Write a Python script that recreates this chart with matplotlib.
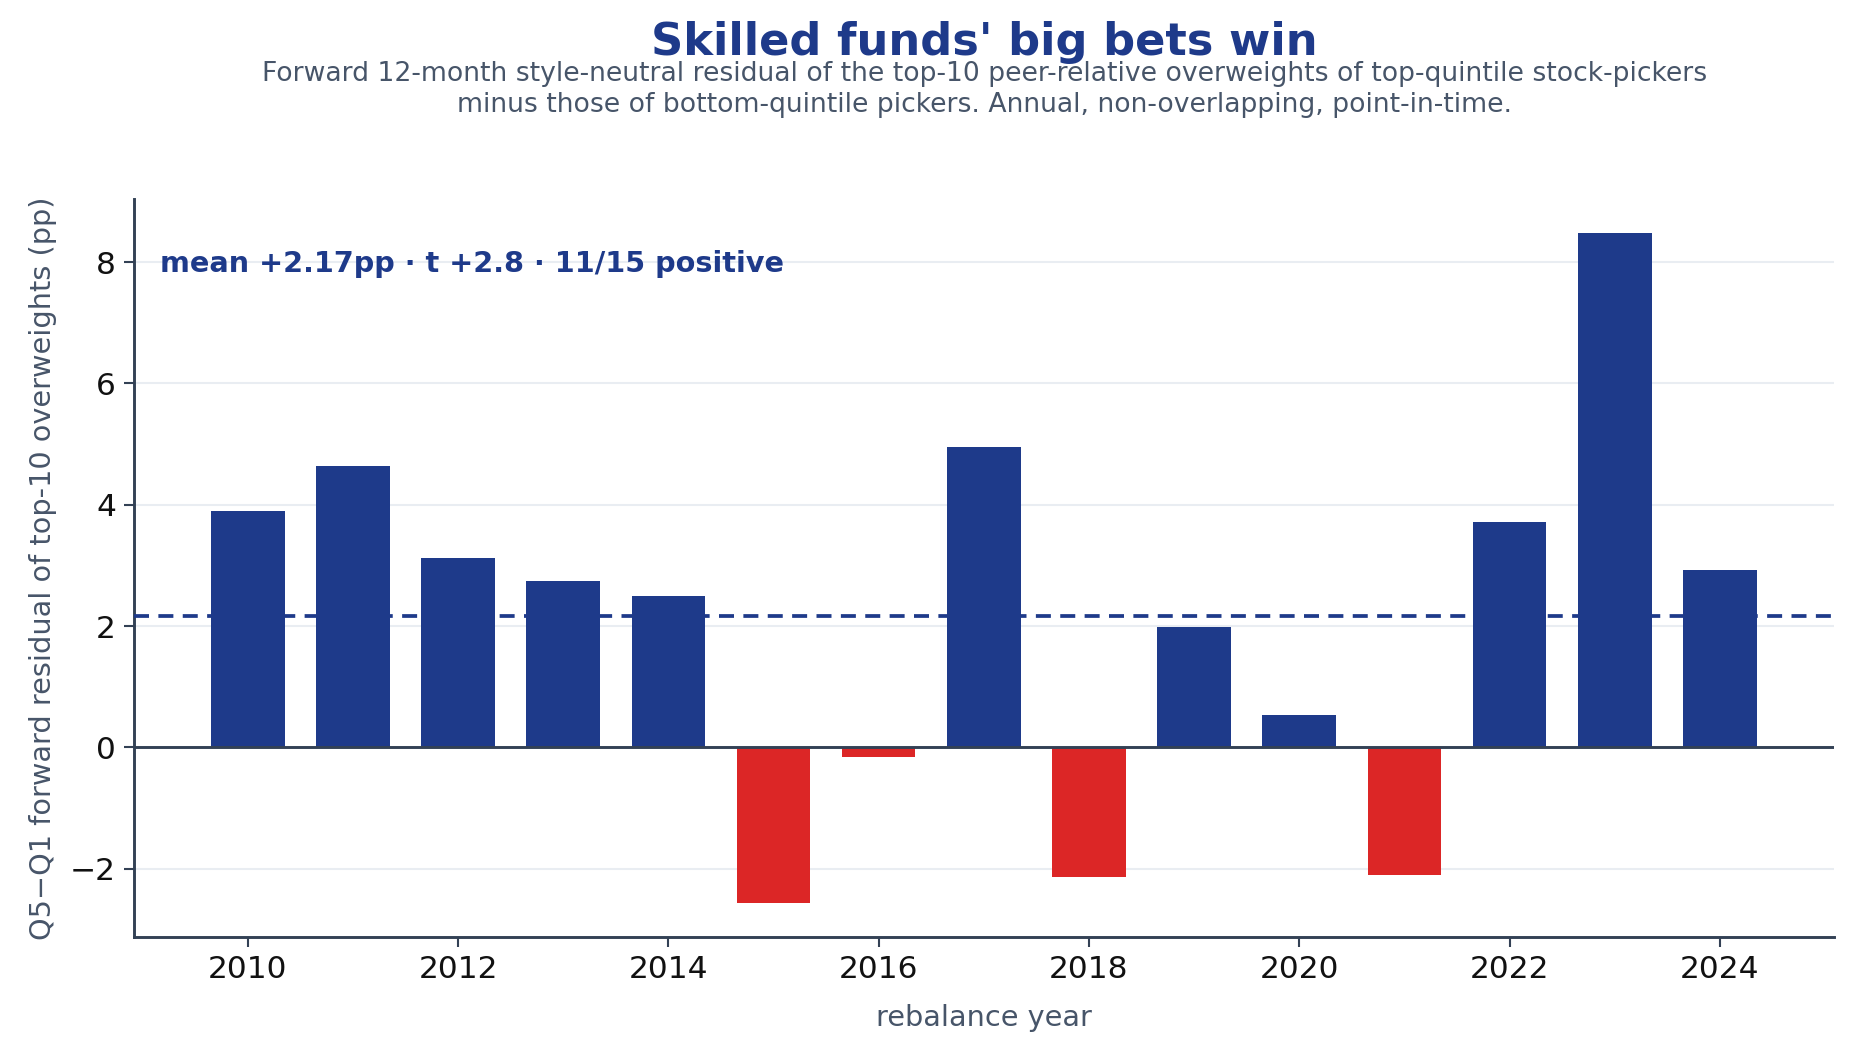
import matplotlib
matplotlib.use("Agg")
import matplotlib.pyplot as plt
import numpy as np

years = [2010, 2011, 2012, 2013, 2014, 2015, 2016, 2017, 2018, 2019, 2020, 2021, 2022, 2023, 2024]
values = [3.90, 4.64, 3.12, 2.75, 2.50, -2.57, -0.16, 4.95, -2.14, 1.99, 0.53, -2.10, 3.72, 8.48, 2.92]
xticks = [2010, 2012, 2014, 2016, 2018, 2020, 2022, 2024]
yticks = [-2, 0, 2, 4, 6, 8]

NAVY = "#1e3a8a"
RED = "#dc2626"
DARK = "#334155"
GRAY = "#475569"

plt.rcParams['font.family'] = ['DejaVu Sans']
fig = plt.figure(figsize=(1857/150, 1055/150), dpi=150)
ax = fig.add_axes([0.072, 0.112, 0.9156, 0.699])

vals = np.array(values)
colors = [NAVY if v >= 0 else RED for v in vals]
ax.bar(years, vals, width=0.7, color=colors, zorder=2)

mean = vals.mean()
tstat = mean / (vals.std(ddof=1) / np.sqrt(len(vals)))
npos = int((vals > 0).sum())
ax.axhline(mean, color=NAVY, lw=1.8, ls=(0, (4, 2.5)), zorder=3)
ax.axhline(0, color=DARK, lw=1.4, zorder=3)

ax.set_xticks(xticks)
ax.set_yticks(yticks)
ax.yaxis.grid(True, color="#e9edf2", lw=1.0, zorder=0)
ax.set_axisbelow(True)
for s in ["top", "right"]:
    ax.spines[s].set_visible(False)
for s in ["left", "bottom"]:
    ax.spines[s].set_color(DARK)
    ax.spines[s].set_linewidth(1.4)
ax.tick_params(axis="both", colors=DARK, labelcolor="#111111", labelsize=15, length=5, width=1)

ax.set_xlabel("rebalance year", fontsize=13.8, color=GRAY, labelpad=10)
ax.set_ylabel("Q5\u2212Q1 forward residual of top-10 overweights (pp)", fontsize=13.8, color=GRAY, labelpad=6)

ax.text(0.0153, 0.913, f"mean {mean:+.2f}pp \u00b7 t {tstat:+.1f} \u00b7 {npos}/{len(vals)} positive",
        transform=ax.transAxes, fontsize=13.8, fontweight="bold", color=NAVY, ha="left", va="center")

fig.text(0.53, 0.9596, "Skilled funds' big bets win", fontsize=21.5, fontweight="bold", color=NAVY,
         ha="center", va="center")
fig.text(0.53, 0.9155, "Forward 12-month style-neutral residual of the top-10 peer-relative overweights of top-quintile stock-pickers\nminus those of bottom-quintile pickers. Annual, non-overlapping, point-in-time.",
         fontsize=12.8, color=GRAY, ha="center", va="center", linespacing=1.25)

fig.savefig("out.png", dpi=150)
